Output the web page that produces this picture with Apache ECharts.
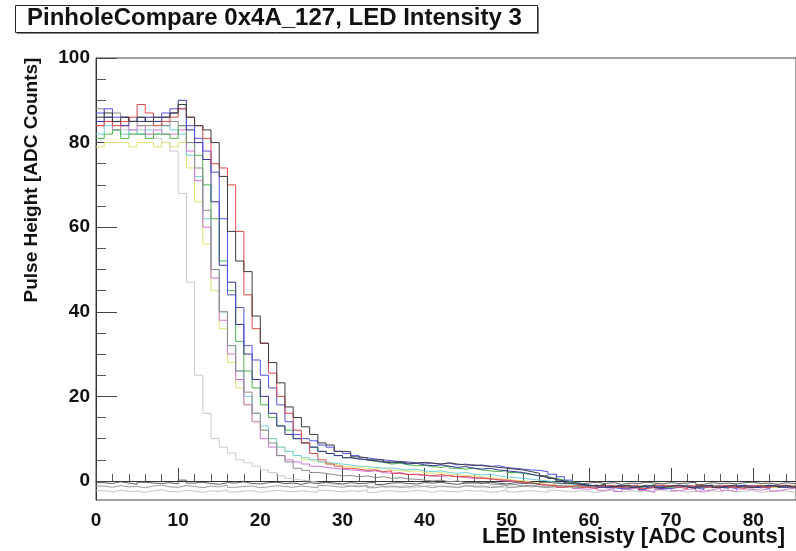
<!DOCTYPE html>
<html>
<head>
<meta charset="utf-8">
<script src="https://cdn.jsdelivr.net/npm/echarts@6/dist/echarts.min.js"></script>
<style>html,body{margin:0;padding:0;background:#fff;}#c{width:796px;height:551px;}</style>
</head>
<body>
<div id="c"></div>
<script>
// ---- data (bin left edges 0..85, width 1) ----
const binEdges = Array.from({length: 87}, (_, i) => i);
const xTickLabels = [0, 10, 20, 30, 40, 50, 60, 70, 80];
const yTickLabels = [0, 20, 40, 60, 80, 100];

const darkgray = [86,87,85,86,85,86,85,86,86,87, 89,86,84,83,80,72,59,52,49.5,39, 32.6,28,23.2,17.5,15,12.8,11,9,8.5,7, 6.9,5.7,5.5,5,5,4.5,4.5,4.2,4.2,4.4, 4.2,4,4.3,4,3.8,3.8,3.6,3.5,3.2,3, 2.8,2.6,2.2,1.8,1.2,0.6,0,-0.5,-0.8,-1, -1.2,-0.8,-1.4,-1.2,-1,-1.5,-1.3,-1,-1.6,-1.2, -1,-1.4,-1.8,-1.2,-1,-1.5,-1.2,-0.9,-1.4,-1.6, -1.2,-1,-1.4,-1.1,-1.5,-1.2];
const red = [84,85,84,85,86,89,87,84,85,86, 88,86,84,81,75,74,70,59,44,36, 32.5,25.5,20,16,12,9,6.5,5,4,3.5, 3,2.8,2.5,2.6,2.2,2.4,1.8,1.5,1.6,1.4, 1.2,1.5,1.2,1,1.1,0.8,0.6,0.5,0.3,0.2, 0,-0.3,-0.5,-0.8,-1,-1,-1.5,-1.2,-1,-1.5, -1.8,-1.2,-1,-1.5,-1.2,-1,-1.8,-1.5,-1,-1.2, -1.5,-1.8,-1.2,-1,-1.5,-1.2,-1,-1.5,-1.8,-1.2, -1,-1.5,-1.2,-1,-1.3,-1.1];
const blue = [87,88,86,86,85,86,85,86,87,88, 88,84,81,78,73,62,44,41,32,28.6, 25,22,18,14,11,10,9.5,8.5,8,7, 6.5,6,5.5,5.2,5,4.8,4.6,4.5,4.3,4.2, 4.2,4,4.2,3.8,4,3.6,3.8,3.4,3.6,3.2, 3,2.8,2.6,2.5,2.2,1.6,1,0.2,-0.5,-1, -1.3,-1,-1.6,-1.8,-1.2,-1.5,-2,-1.4,-1.2,-1.8, -1.5,-1.2,-1.6,-2,-1.4,-1.2,-1.5,-1.8,-1.3,-1.1, -1.5,-1.7,-1.2,-1,-1.4,-1.6];
const navy = [85,86,85,84,85,85,86,85,86,87, 90,83,80,76,66,51,47,37,30,24, 20,16,13,11,10,9,8,7,6.5,6, 5.5,5.2,5,4.8,4.5,4.3,4.4,4,4.2,3.8, 3.6,3.8,3.5,3.2,3.4,3,2.8,3,2.6,2.4, 2.2,2,1.6,1.2,0.8,0.4,0,-0.5,-0.8,-1.2, -1,-1.5,-1.3,-1,-1.7,-1.4,-1.1,-1.6,-1.8,-1.2, -1,-1.4,-1.6,-1.3,-1,-1.5,-1.7,-1.2,-1,-1.4, -1.6,-1.2,-1,-1.5,-1.3,-1.1];
const gray = [88,86,87,86,85,84,84,85,84,85, 84,80,74,64,50,40,32,26,21,16, 12,9,6,4.5,3,2.5,2,1.8,1.5,1.2, 1.3,1,1.2,0.8,1,0.6,0.8,0.5,0.4,0.2, 0,0.2,-0.2,0,-0.4,-0.5,-0.3,-0.7,-0.8,-1, -0.8,-1.2,-1,-1.3,-1.5,-1.2,-1,-1.4,-1.6,-1.2, -1,-1.3,-1.5,-1.2,-1.6,-1.4,-1,-1.2,-1.5,-1.8, -1.3,-1,-1.4,-1.7,-1.2,-1,-1.5,-1.3,-1.1,-1.6, -1.4,-1,-1.2,-1.5,-1.7,-1.2];
const green = [81,82,83,81,82,82,81,82,82,81, 84,80,77,70,62,52,45,33,26,22, 18,15,13,12,10,9,8,7,6.5,6, 5.5,5.2,5,4.6,4.4,4,4.2,3.8,3.6,3.7, 3.4,3.2,3.5,3,2.8,3,2.6,2.4,2.2,2.5, 2,1.8,1.5,1.2,1,0.6,0.2,-0.2,-0.6,-1, -1.2,-0.8,-1.4,-1.1,-1,-1.5,-1.2,-0.9,-1.3,-1.6, -1.2,-1,-1.5,-1.3,-1,-1.2,-1.6,-1.4,-1,-1.3, -1.5,-1.1,-1,-1.4,-1.2,-1.5];
const cyan = [82,84,83,82,83,82,83,82,84,83, 82,77,72,62,50,40,32,26,20,16, 13,10,8,7,6,5.5,5,4.5,4.2,4, 3.8,3.5,3.4,3.2,3,3.1,2.8,2.6,2.8,2.4, 2.2,2.4,2,1.8,2,1.6,1.4,1.6,1.2,1, 0.8,0.6,0.4,0.2,0,-0.3,-0.6,-0.8,-1,-1.2, -1,-1.4,-1.2,-1.6,-1.3,-1,-1.5,-1.2,-1.4,-1.7, -1.2,-1,-1.3,-1.6,-1.4,-1.1,-1.5,-1.2,-1,-1.4, -1.6,-1.3,-1.1,-1.5,-1.2,-1];
const magenta = [84,85,83,84,83,84,82,83,82,82, 83,78,71,60,48,38,30,24,18,14, 10,8,6,5,4.5,4,3.5,3.2,3,2.8, 2.6,2.5,2.2,2.4,2,1.8,2,1.6,1.5,1.3, 1.2,1,1.3,1,0.8,0.6,0.8,0.5,0.2,0, -0.2,-0.5,-0.4,-0.8,-1,-1.2,-1.5,-1.3,-1.8,-2, -1.6,-2.2,-1.8,-2.5,-2,-1.6,-2.2,-2.6,-2,-1.7, -2.3,-2,-1.8,-2.4,-2.1,-1.7,-2.2,-2.5,-1.9,-2, -2.2,-1.8,-2.4,-2,-1.7,-2.1];
const yellow = [79,80,80,80,79,80,80,79,80,79, 80,74,66,56,45,36,28,22,18,14, 12,10,8,7,6,5,4.6,4.2,4,3.6, 3.4,3.2,3,2.8,3,2.6,2.5,2.2,2.4,2, 1.8,2,1.6,1.5,1.3,1.2,1,0.8,0.6,0.4, 0.2,0,-0.3,-0.5,-0.8,-1,-1.2,-1,-1.4,-1.2, -1,-1.5,-1.3,-1.1,-1.6,-1.2,-1,-1.4,-1.7,-1.3, -1.1,-1.5,-1.2,-1,-1.6,-1.4,-1.1,-1.3,-1.5,-1.2, -1,-1.4,-1.6,-1.2,-1.1,-1.5];
const lightgray = [85,86,84,83,82,83,82,81,80,78, 68,47,25,16,10,8,6.6,5,4.3,3.5, 2.6,2,1.2,0.6,0.2,0,-0.3,-0.5,-0.8,-1, -1.2,-1,-1.4,-1.2,-1,-1.5,-1.3,-1.1,-1.6,-1.2, -1,-1.4,-1.2,-1.6,-1.3,-1,-1.5,-1.2,-1.4,-1.7, -1.3,-1.1,-1.5,-1.2,-1,-1.6,-1.4,-1.1,-1.3,-1.5, -1.2,-1,-1.4,-1.6,-1.2,-1.1,-1.5,-1.3,-1,-1.4, -1.6,-1.2,-1.1,-1.5,-1.3,-1,-1.4,-1.6,-1.2,-1.1, -1.5,-1.3,-1,-1.4,-1.2,-1.5];
const base1 = [-0.4,-0.6,-0.2,-0.5,-0.8,-0.3,-0.5,-0.6,-0.4,-0.7, 0.2,-0.5,-0.3,-0.6,-0.8,-0.4,-0.5,-0.2,-0.6,-0.7, -0.4,-0.3,-0.6,-0.5,-0.8,-0.4,-0.6,-0.3,-0.5,-0.7, -0.4,-0.6,-0.5,-0.3,-0.8,-0.5,-0.4,-0.6,-0.7,-0.4, -0.5,-0.3,-0.6,-0.8,-0.5,-0.4,-0.6,-0.3,-0.5,-0.7, -0.4,-0.6,-0.5,-0.8,-0.3,-0.5,-0.6,-0.4,-0.7,-0.5, -0.3,-0.6,-0.4,-0.8,-0.5,-0.6,-0.3,-0.5,-0.7,-0.4, -0.6,-0.5,-0.3,-0.8,-0.4,-0.6,-0.5,-0.7,-0.4,-0.3, -0.6,-0.5,-0.8,-0.4,-0.6,-0.5];
const base2 = [-1.2,-1.5,-1.1,-1.4,-1.3,-1.6,-1.2,-1,-1.4,-1.5, -1.1,-1.3,-1.6,-1.2,-1.4,-1,-1.5,-1.3,-1.2,-1.6, -1.4,-1.1,-1.3,-1.5,-1.2,-1.4,-1.6,-1.1,-1.3,-1.5, -1.2,-1.4,-1,-1.6,-1.3,-1.2,-1.5,-1.4,-1.1,-1.3, -1.6,-1.2,-1.4,-1.5,-1.1,-1.3,-1.2,-1.6,-1.4,-1, -1.5,-1.3,-1.2,-1.4,-1.6,-1.1,-1.3,-1.5,-1.2,-1.4, -1.6,-1.3,-1.1,-1.5,-1.2,-1.4,-1.3,-1.6,-1.1,-1.4, -1.2,-1.5,-1.3,-1.6,-1.2,-1.4,-1.1,-1.5,-1.3,-1.2, -1.6,-1.4,-1.1,-1.3,-1.5,-1.2];
const base3 = [-2.3,-2.6,-2.2,-2.5,-2.4,-2.7,-2.3,-2.1,-2.5,-2.6, -2.2,-2.4,-2.7,-2.3,-2.5,-2.1,-2.6,-2.4,-2.3,-2.7, -2.5,-2.2,-2.4,-2.6,-2.3,-2.5,-2.7,-2.2,-2.4,-2.6, -2.3,-2.5,-2.1,-2.7,-2.4,-2.3,-2.6,-2.5,-2.2,-2.4, -2.7,-2.3,-2.5,-2.6,-2.2,-2.4,-2.3,-2.7,-2.5,-2.1, -2.6,-2.4,-2.3,-2.5,-2.7,-2.2,-2.4,-2.6,-2.3,-2.5, -2.7,-2.4,-2.2,-2.6,-2.3,-2.5,-2.4,-2.7,-2.2,-2.5, -2.3,-2.6,-2.4,-2.7,-2.3,-2.5,-2.2,-2.6,-2.4,-2.3, -2.7,-2.5,-2.2,-2.4,-2.6,-2.3];

const seriesDefs = [
  ['base3', base3, '#c4c4c4'],
  ['lightgray', lightgray, '#c9c9c9'],
  ['yellow', yellow, '#e3e36e'],
  ['cyan', cyan, '#6cd0e2'],
  ['magenta', magenta, '#d276d2'],
  ['green', green, '#48b848'],
  ['gray', gray, '#8c8c8c'],
  ['base2', base2, '#9a9a9a'],
  ['navy', navy, '#34349c'],
  ['blue', blue, '#5252e4'],
  ['red', red, '#e04848'],
  ['darkgray', darkgray, '#3c3c3c'],
  ['base1', base1, '#5a5a5a']
];

function histData(vals) {
  const d = vals.map((v, i) => [binEdges[i], v]);
  d.push([binEdges[vals.length], vals[vals.length - 1]]);
  return d;
}

const chart = echarts.init(document.getElementById('c'), null, {renderer: 'canvas'});
const FONT = '"Liberation Sans", Arial, Helvetica, sans-serif';
const minorX = [2,4,6,8,12,14,16,18,22,24,26,28,32,34,36,38,42,44,46,48,52,54,56,58,62,64,66,68,72,74,76,78,82,84];
const minorY = [5,10,15,25,30,35,45,50,55,65,70,75,85,90,95];

chart.setOption({
  animation: false,
  backgroundColor: '#fff',
  grid: {left: 96, top: 58, right: 0, bottom: 51, show: true, borderColor: '#444', borderWidth: 1, backgroundColor: 'transparent'},
  xAxis: [
    {type: 'value', min: 0, max: 85.2, position: 'bottom',
     axisLine: {show: true, lineStyle: {color: '#333', width: 1}},
     axisTick: {show: true, inside: true, length: 13, customValues: xTickLabels, lineStyle: {color: '#444'}},
     axisLabel: {customValues: xTickLabels, fontFamily: FONT, fontWeight: 'bold', fontSize: 19, color: '#111', margin: 11},
     splitLine: {show: false}},
    {type: 'value', min: 0, max: 85.2, position: 'bottom',
     axisLine: {show: false},
     axisTick: {show: true, inside: true, length: 7, customValues: minorX, lineStyle: {color: '#555'}},
     axisLabel: {show: false}, splitLine: {show: false}}
  ],
  yAxis: [
    {type: 'value', min: -4.5, max: 100, position: 'left',
     axisLine: {show: true, lineStyle: {color: '#333', width: 1}},
     axisTick: {show: true, inside: true, length: 21, customValues: yTickLabels, lineStyle: {color: '#444'}},
     axisLabel: {customValues: yTickLabels, fontFamily: FONT, fontWeight: 'bold', fontSize: 19, color: '#111', margin: 6},
     splitLine: {show: false}},
    {type: 'value', min: -4.5, max: 100, position: 'left',
     axisLine: {show: false},
     axisTick: {show: true, inside: true, length: 10, customValues: minorY, lineStyle: {color: '#555'}},
     axisLabel: {show: false}, splitLine: {show: false}}
  ],
  series: seriesDefs.map(([name, vals, color]) => ({
    name, type: 'line', step: 'end', xAxisIndex: 0, yAxisIndex: 0,
    data: histData(vals), showSymbol: false, symbol: 'none', clip: true,
    lineStyle: {color, width: 1}, z: 2
  })),
  graphic: [
    {type: 'rect', left: 17, top: 7, shape: {width: 522, height: 27}, style: {fill: '#888'}, z: 10},
    {type: 'rect', left: 15, top: 5, shape: {width: 522, height: 27}, style: {fill: '#fff', stroke: '#222', lineWidth: 1}, z: 11},
    {type: 'text', left: 27, top: 6, z: 12,
     style: {text: 'PinholeCompare 0x4A_127, LED Intensity 3', font: 'bold 24px ' + FONT, fill: '#111'}},
    {type: 'text', right: 11, top: 526, z: 12,
     style: {text: 'LED Intensisty [ADC Counts]', font: 'bold 22px ' + FONT, fill: '#111'}},
    {type: 'text', x: 22, y: 180, rotation: Math.PI / 2, z: 12,
     style: {text: 'Pulse Height [ADC Counts]', font: 'bold 19px ' + FONT, fill: '#111', align: 'center', verticalAlign: 'top'}}
  ]
});
</script>
</body>
</html>
